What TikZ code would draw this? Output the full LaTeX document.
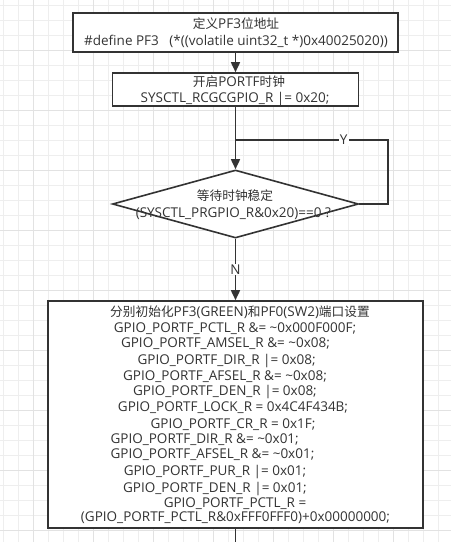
\documentclass[tikz,border=0pt]{standalone}
\usepackage{fontspec}
\setmainfont{Open Sans}
\newfontfamily\cjkf{Noto Sans CJK SC}[Scale=0.94]
\newcommand\cjk[1]{{\cjkf #1}}
\usetikzlibrary{arrows.meta,shapes.geometric}
\definecolor{ln}{HTML}{333333}
\definecolor{tx}{HTML}{333333}
\definecolor{gmin}{HTML}{EEEEEE}
\definecolor{gmaj}{HTML}{E2E2E2}
\begin{document}
\begin{tikzpicture}[x=1pt,y=-1pt,
  box/.style={draw=ln,line width=1.6pt,fill=white,inner sep=0pt,rectangle},
  dmd/.style={draw=ln,line width=1.6pt,fill=white,inner sep=0pt,diamond},
  txt/.style={text=tx,font=\fontsize{13.5}{15}\selectfont,inner sep=0pt,anchor=base},
  conn/.style={draw=ln,line width=1.6pt},
  arr/.style={conn,-{Triangle[length=10pt,width=9pt]}},
  lbl/.style={fill=white,text=tx,font=\fontsize{13.5}{15}\selectfont,inner sep=1pt}]
\useasboundingbox (0,0) rectangle (451,542);
\fill[white] (0,0) rectangle (451,542);
% grid
\foreach \i in {0,...,30} {\draw[gmin,line width=0.7pt] ({3.3+15*\i},0) -- ({3.3+15*\i},542);}
\foreach \i in {0,...,36} {\draw[gmin,line width=0.7pt] (0,{5+15*\i}) -- (451,{5+15*\i});}
\foreach \i in {0,...,7} {\draw[gmaj,line width=0.7pt] ({33.3+60*\i},0) -- ({33.3+60*\i},542);}
\foreach \i in {0,...,8} {\draw[gmaj,line width=0.7pt] (0,{50+60*\i}) -- (451,{50+60*\i});}
% shapes
\node[box,minimum width=325pt,minimum height=39pt] (b1) at (235.5,32.5) {};
\node[box,minimum width=246pt,minimum height=33pt] (b2) at (235.5,89.5) {};
\node[dmd,minimum width=246pt,minimum height=68pt] (dm) at (235.5,204) {};
\node[box,minimum width=375pt,minimum height=227pt] (b3) at (235.5,414.5) {};
% connectors
\coordinate (yc) at (388,140);
\coordinate (endc) at (235.5,542);
\draw[arr] (b1.south) -- (b2.north);
\draw[arr] (b2.south) -- (dm.north);
\draw[conn] (dm.east) -| (yc) -- node[lbl,pos=0.29] (ylab) {Y} (yc -| dm.north);
\draw[arr] (dm.south) -- node[lbl,pos=0.5] (nlab) {N} (b3.north);
\draw[conn] (b3.south) -- (endc);
% texts
\node[txt] (t1a) at (236,28.8) {\cjk{定义}PF3\cjk{位地址}};
\node[txt] (t1b) at (236,45.8) {\#define PF3\ \ \ (*((volatile uint32\_t *)0x40025020))};
\node[txt] (t2a) at (239,86.5) {\cjk{开启}PORTF\cjk{时钟}};
\node[txt] (t2b) at (235,102.1) {SYSCTL\_RCGCGPIO\_R |= 0x20;};
\node[txt] (tda) at (235,200.8) {\cjk{等待时钟稳定}};
\node[txt] (tdb) at (233.3,217.5) {(SYSCTL\_PRGPIO\_R\&0x20)==0 ?};
\node[txt] (l1) at (240,316.8) {\cjk{分别初始化}PF3(GREEN)\cjk{和}PF0(SW2)\cjk{端口设置}};
\node[txt] (l2) at (235,332.1) {GPIO\_PORTF\_PCTL\_R \&= \textasciitilde 0x000F000F;};
\node[txt] (l3) at (225.5,347.9) {GPIO\_PORTF\_AMSEL\_R \&= \textasciitilde 0x08;};
\node[txt] (l4) at (226.7,364.6) {GPIO\_PORTF\_DIR\_R |= 0x08;};
\node[txt] (l5) at (225,380.5) {GPIO\_PORTF\_AFSEL\_R \&= \textasciitilde 0x08;};
\node[txt] (l6) at (225,395.8) {GPIO\_PORTF\_DEN\_R |= 0x08;};
\node[txt] (l7) at (233,411.5) {GPIO\_PORTF\_LOCK\_R = 0x4C4F434B;};
\node[txt] (l8) at (233,428.8) {GPIO\_PORTF\_CR\_R = 0x1F;};
\node[txt] (l9) at (204.7,443.8) {GPIO\_PORTF\_DIR\_R \&= \textasciitilde 0x01;};
\node[txt] (l10) at (212.5,458.8) {GPIO\_PORTF\_AFSEL\_R \&= \textasciitilde 0x01;};
\node[txt] (l11) at (215,475.8) {GPIO\_PORTF\_PUR\_R |= 0x01;};
\node[txt] (l12) at (215,492.5) {GPIO\_PORTF\_DEN\_R |= 0x01;};
\node[txt] (l13) at (235,507.8) {GPIO\_PORTF\_PCTL\_R =};
\node[txt] (l14) at (235.5,521.8) {(GPIO\_PORTF\_PCTL\_R\&0xFFF0FFF0)+0x00000000;};
\end{tikzpicture}
\end{document}
